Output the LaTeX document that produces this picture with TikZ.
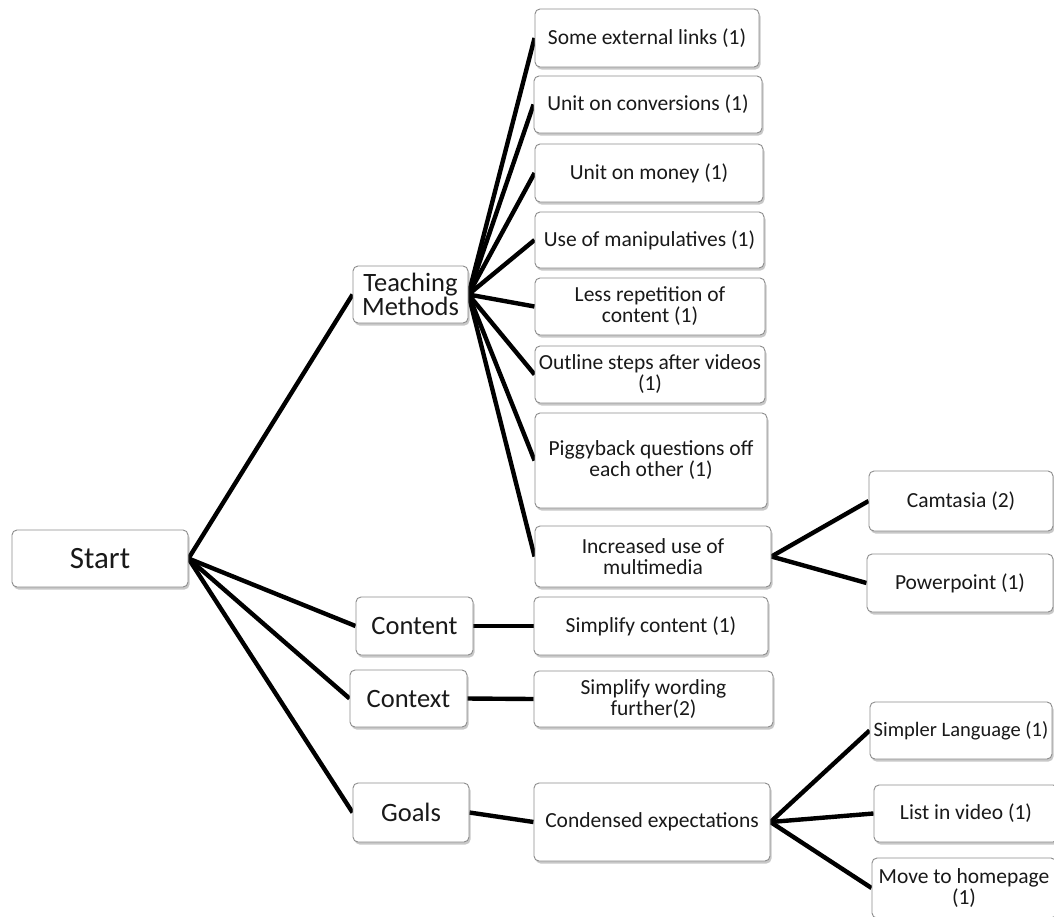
\documentclass[tikz,border=0pt]{standalone}
\usepackage{fontspec}
\setmainfont{Carlito}
\usetikzlibrary{shadows,backgrounds}
\tikzset{
  box/.style={draw=black!45, line width=0.9pt, fill=white, rounded corners=5pt,
    inner sep=1pt, align=center, text=black!90,
    drop shadow={shadow xshift=1.5pt, shadow yshift=-2.5pt, opacity=0.3, fill=black!70}},
  rootbox/.style={box, font=\fontsize{31}{31}\selectfont},
  midbox/.style={box, font=\fontsize{26.5}{24}\selectfont},
  leafbox/.style={box, font=\fontsize{21.5}{21}\selectfont},
  link/.style={line width=4.4pt, black}
}
\newcommand{\bx}[6]{\node[#1, minimum width=#4pt, minimum height=#5pt] (#2) at #3 {#6};}
\begin{document}
\begin{tikzpicture}[x=1pt,y=-1pt]
\useasboundingbox (0,0) rectangle (1054,916);
% level 0 and 1
\bx{rootbox}{start}{(100,558.5)}{176}{57}{Start}
\bx{midbox}{tm}{(410.5,294.5)}{115}{57}{Teaching\\Methods}
\bx{midbox}{content}{(414.5,626)}{117}{58}{Content}
\bx{midbox}{context}{(408.5,698.5)}{117}{57}{Context}
\bx{midbox}{goals}{(411,812.5)}{116}{59}{Goals}
% leaves
\bx{leafbox}{l1}{(647,38)}{224}{58}{Some external links (1)}
\bx{leafbox}{l2}{(648,104.5)}{228}{57}{Unit on conversions (1)}
\bx{leafbox}{l3}{(649,173)}{228}{58}{Unit on money (1)}
\bx{leafbox}{l4}{(649.5,240)}{229}{56}{Use of manipulatives (1)}
\bx{leafbox}{l5}{(650,306.5)}{230}{57}{Less repetition of\\content (1)}
\bx{leafbox}{l6}{(650,374.5)}{230}{57}{Outline steps after videos\\(1)}
\bx{leafbox}{l7}{(651,460.5)}{232}{95}{Piggyback questions off\\each other (1)}
\bx{leafbox}{l8}{(653,556.5)}{236}{61}{Increased use of\\multimedia}
\bx{leafbox}{l9}{(651,626)}{234}{58}{Simplify content (1)}
\bx{leafbox}{l10}{(653.5,699)}{239}{56}{Simplify wording\\further(2)}
\bx{leafbox}{l11}{(652,822)}{236}{78}{Condensed expectations}
% right column
\bx{leafbox}{cam}{(961,501)}{184}{60}{Camtasia (2)}
\bx{leafbox}{pp}{(960,583)}{186}{58}{Powerpoint (1)}
\bx{leafbox, font=\fontsize{20.5}{21}\selectfont}{sl}{(961,730.5)}{182}{57}{Simpler Language (1)}
\bx{leafbox}{lv}{(966,813.5)}{184}{57}{List in video (1)}
\bx{leafbox}{mh}{(964,888)}{184}{60}{Move to homepage\\(1)}
% connectors
\begin{scope}[on background layer]
\fill[white] (0,0) rectangle (1054,916);
\foreach \c in {tm,content,context,goals} \draw[link] (start.east) -- (\c.west);
\foreach \c in {l1,l2,l3,l4,l5,l6,l7,l8} \draw[link] (tm.east) -- (\c.west);
\draw[link] (content.east) -- (l9.west);
\draw[link] (context.east) -- (l10.west);
\draw[link] (goals.east) -- (l11.west);
\foreach \c in {cam,pp} \draw[link] (l8.east) -- (\c.west);
\foreach \c in {sl,lv,mh} \draw[link] (l11.east) -- (\c.west);
\end{scope}
\end{tikzpicture}
\end{document}
